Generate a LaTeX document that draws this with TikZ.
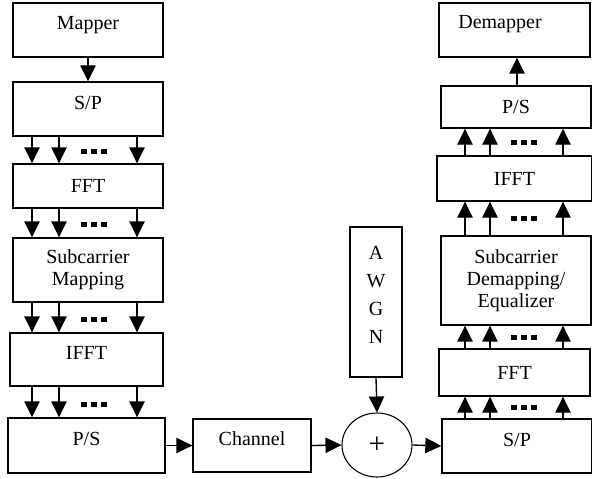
\documentclass[tikz,border=0pt]{standalone}
\usepackage{fontspec}
\setmainfont{Liberation Serif}
\usetikzlibrary{arrows.meta,shapes.geometric}

\tikzset{
  blk/.style 2 args={draw, line width=1pt, rectangle, inner sep=0pt,
    minimum width=#1*0.75pt, minimum height=#2*0.75pt,
    align=center, font=\fontsize{15}{16.5}\selectfont},
  raised/.style={text height=10pt, text depth=10pt},
  arr/.style={line width=1pt, -{Triangle[length=12pt,width=11.5pt]}},
  dotrow/.pic={\foreach \d in {-10,0,10} \fill (\d-3,-2.5) rectangle (\d+3,2.5);}
}

\begin{document}
\begin{tikzpicture}[x=0.75pt,y=-0.75pt]
\useasboundingbox (0,0) rectangle (592,478);

% transmitter chain
\node[blk={150}{54},raised] (map)   at (88,30)      {Mapper};
\node[blk={150}{54},raised] (sp1)   at (88,109)     {S/P};
\node[blk={150}{44}]        (fft1)  at (88,186)     {FFT};
\node[blk={150}{64}]        (scm)   at (88,270)     {Subcarrier\\Mapping};
\node[blk={153}{53},raised] (ifft1) at (86.5,359.5) {IFFT};
\node[blk={157}{55},raised] (ps1)   at (86.5,445.5) {P/S};

% channel and noise
\node[blk={118}{53},raised] (chan)  at (252,445.5)  {Channel};
\node[draw, line width=0.8pt, ellipse, inner sep=0pt,
      minimum width=52.5pt, minimum height=48pt,
      font=\fontsize{22}{24}\selectfont] (sum) at (377,445) {+};
\node[blk={52}{150}]        (awgn)  at (376,302)    {};
\node[align=center, font=\fontsize{15}{21}\selectfont] (awgntxt) at (376,295) {A\\W\\G\\N};

% receiver chain
\node[blk={150}{54}]        (sp2)   at (517,446)    {};
\node[font=\fontsize{15}{16.5}\selectfont] (sp2txt) at (517,440) {S/P};
\node[blk={151}{47}]        (fft2)  at (514.5,372.5) {FFT};
\node[blk={150}{89}]        (sdm)   at (516,280.5)  {Subcarrier\\Demapping/\\Equalizer};
\node[blk={155}{45}]        (ifft2) at (514.5,178.5) {IFFT};
\node[blk={150}{42}]        (ps2)   at (516,107)    {P/S};
\node[blk={151}{54}]        (demap) at (514.5,30)   {};
\node[font=\fontsize{15}{16.5}\selectfont] (demaptxt) at (500,24) {Demapper};

% single connections
\draw[arr] (map.south) -- (sp1.north);
\draw[arr] (ps1.east) -- (chan.west);
\draw[arr] (chan.east) -- (sum.west);
\draw[arr] (sum.east) -- (sp2.west);
\draw[arr] (awgn.south) -- (sum.north);
\draw[arr] (ps2.north -| 517,0) -- (demap.south -| 517,0);

% parallel transmitter branches
\foreach \a/\b in {sp1/fft1, fft1/scm, scm/ifft1, ifft1/ps1}{
  \foreach \x in {32,59,137}
    \draw[arr] (\a.south -| \x,0) -- (\b.north -| \x,0);
}
\pic at (93.5,151) {dotrow};
\pic at (93.5,224) {dotrow};
\pic at (93.5,319) {dotrow};
\pic at (93.5,404) {dotrow};

% parallel receiver branches
\foreach \a/\b in {sp2/fft2, fft2/sdm, sdm/ifft2, ifft2/ps2}{
  \foreach \x in {465,490,563}
    \draw[arr] (\a.north -| \x,0) -- (\b.south -| \x,0);
}
\pic at (523.5,407) {dotrow};
\pic at (523.5,337) {dotrow};
\pic at (523.5,218) {dotrow};
\pic at (523.5,142) {dotrow};
\end{tikzpicture}
\end{document}
